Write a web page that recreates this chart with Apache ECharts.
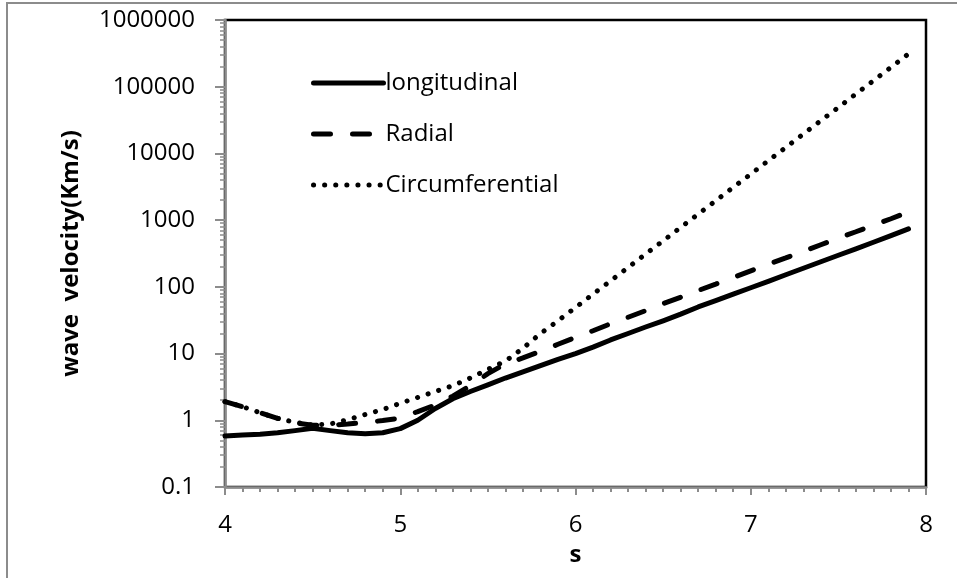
<!DOCTYPE html>
<html>
<head>
<meta charset="utf-8">
<script src="https://cdn.jsdelivr.net/npm/echarts@6/dist/echarts.min.js"></script>
<style>
  html, body { margin: 0; padding: 0; background: #fff; }
  #chart { width: 957px; height: 578px; }
</style>
</head>
<body>
<div id="chart"></div>
<script>
// x values (s)
const sVals = [4.0, 4.1, 4.2, 4.3, 4.4, 4.5, 4.6, 4.7, 4.8, 4.9,
  5.0, 5.1, 5.2, 5.3, 5.4, 5.5, 5.6, 5.7, 5.8, 5.9,
  6.0, 6.1, 6.2, 6.3, 6.4, 6.5, 6.6, 6.7, 6.8, 6.9,
  7.0, 7.1, 7.2, 7.3, 7.4, 7.5, 7.6, 7.7, 7.8, 7.9];

// wave velocity (Km/s)
const longitudinal = [0.58, 0.60, 0.62, 0.65, 0.70, 0.76, 0.70, 0.65, 0.63, 0.65,
  0.75, 1.0, 1.5, 2.1, 2.7, 3.4, 4.3, 5.3, 6.6, 8.2,
  10, 12.5, 16, 20, 25, 31, 39, 50, 62, 78,
  97, 121, 152, 190, 238, 298, 372, 466, 585, 738];
const radial = [1.9, 1.6, 1.3, 1.07, 0.92, 0.84, 0.84, 0.88, 0.93, 0.99,
  1.08, 1.35, 1.7, 2.3, 3.3, 5.0, 7.0, 8.6, 10.8, 13.8,
  17.5, 22, 28, 35, 44, 56, 70, 88, 110, 138,
  174, 218, 272, 340, 428, 537, 670, 840, 1050, 1320];
const circumferential = [1.9, 1.6, 1.3, 1.07, 0.93, 0.85, 0.88, 1.02, 1.22, 1.45,
  1.8, 2.2, 2.7, 3.3, 4.3, 5.8, 7.7, 12, 20, 31,
  49, 78, 123, 195, 310, 490, 780, 1230, 1950, 3100,
  4900, 7800, 12300, 19500, 31000, 49000, 78000, 123000, 195000, 310000];

const seriesNames = ['longitudinal', 'Radial', 'Circumferential'];
const yTickLabels = [0.1, 1, 10, 100, 1000, 10000, 100000, 1000000];

// log minor ticks 2..9 in each decade
const minorY = [];
for (let d = 0; d < yTickLabels.length - 1; d++) {
  for (let k = 2; k <= 9; k++) minorY.push(+(yTickLabels[d] * k).toPrecision(3));
}

const pair = arr => sVals.map((s, i) => [s, arr[i]]);

const FONT = 'Open Sans';
const FS = 24;
const LW = 5;
const styles = [
  { color: '#000', width: LW, type: 'solid', cap: 'round', join: 'round' },
  { color: '#000', width: LW, type: [17, 22], cap: 'round' },
  { color: '#000', width: LW, type: [0.1, 11], cap: 'round' }
];

const chart = echarts.init(document.getElementById('chart'));

const option = {
  animation: false,
  textStyle: { fontFamily: FONT, color: '#000' },
  graphic: [{
    type: 'rect',
    shape: { x: 7, y: 3, width: 1000, height: 1000 },
    style: { fill: 'none', stroke: '#8c8c8c', lineWidth: 2 },
    silent: true
  }],
  grid: {
    left: 225, right: 31, top: 20, bottom: 91,
    show: true, borderColor: '#000', borderWidth: 2.5
  },
  legend: {
    orient: 'vertical',
    left: 306, top: 66,
    itemWidth: 70, itemHeight: 14, itemGap: 27,
    itemStyle: { opacity: 0 },
    textStyle: { fontSize: FS, color: '#000', fontFamily: FONT, padding: [0, 0, 0, -3] },
    data: seriesNames.map((n, i) => ({ name: n, lineStyle: styles[i] }))
  },
  xAxis: {
    type: 'value', min: 4, max: 8, interval: 1,
    name: 's', nameLocation: 'middle', nameGap: 56,
    nameTextStyle: { fontSize: FS, fontWeight: 'bold', color: '#000' },
    axisLine: { lineStyle: { color: '#8c8c8c', width: 2.5 } },
    axisTick: { length: 8, lineStyle: { color: '#8c8c8c', width: 2 } },
    minorTick: { show: true, splitNumber: 10, length: 5, lineStyle: { color: '#8c8c8c', width: 2 } },
    axisLabel: { fontSize: FS, color: '#000', margin: 26 },
    splitLine: { show: false }
  },
  yAxis: [{
    type: 'log', logBase: 10, min: 0.1, max: 1000000, splitNumber: 7,
    name: 'wave  velocity(Km/s)', nameLocation: 'middle', nameGap: 142,
    nameTextStyle: { fontSize: FS, fontWeight: 'bold', color: '#000' },
    axisLine: { lineStyle: { color: '#8c8c8c', width: 2.5 } },
    axisTick: { length: 10, lineStyle: { color: '#8c8c8c', width: 2 } },
    axisLabel: {
      fontSize: FS, color: '#000', margin: 30,
      formatter: v => (v < 1 ? v.toFixed(1) : String(Math.round(v)))
    },
    splitLine: { show: false }
  }, {
    type: 'log', logBase: 10, min: 0.1, max: 1000000, position: 'left',
    axisLine: { show: false },
    axisTick: { show: true, length: 5, customValues: minorY, lineStyle: { color: '#8c8c8c', width: 1.5 } },
    axisLabel: { show: false },
    splitLine: { show: false }
  }],
  series: seriesNames.map((n, i) => ({
    name: n, type: 'line', showSymbol: false, symbol: 'none',
    lineStyle: styles[i],
    itemStyle: { color: '#000' },
    data: pair([longitudinal, radial, circumferential][i])
  }))
};

chart.setOption(option);
</script>
</body>
</html>
